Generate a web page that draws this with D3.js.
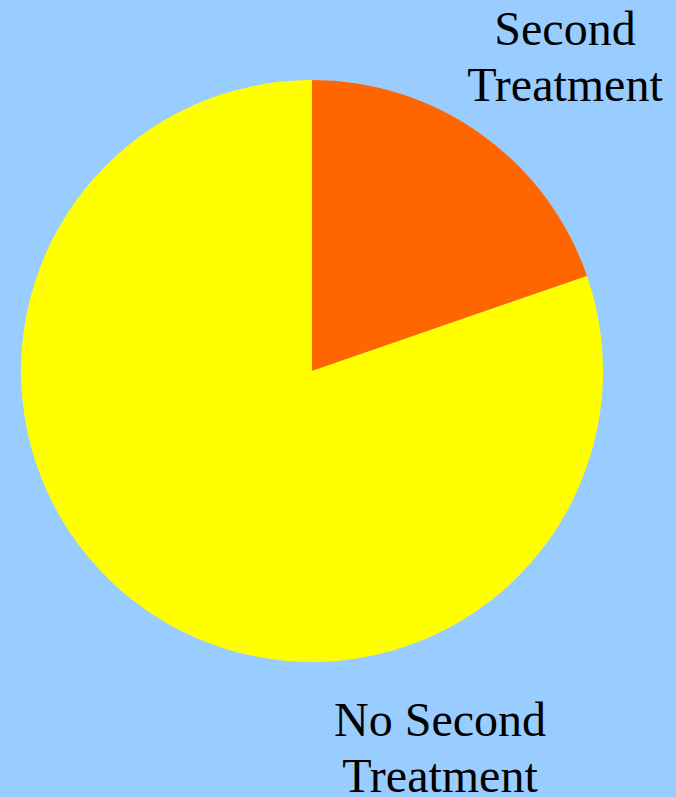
<!DOCTYPE html>
<html>
<head>
<meta charset="utf-8">
<script src="https://cdn.jsdelivr.net/npm/d3@7"></script>
<style>
  html, body { margin: 0; padding: 0; background: #99CCFF; }
  svg { display: block; }
</style>
</head>
<body>
<svg id="chart" width="676" height="797"></svg>
<script>
// Share of patients receiving a second treatment
const categories = ["Second Treatment", "No Second Treatment"];
const values = [19.7, 80.3];
const colors = ["#FF6600", "#FFFF00"];
const labelLines = [["Second", "Treatment"], ["No Second", "Treatment"]];

const width = 676, height = 797;
const cx = 312, cy = 371, radius = 291;

const svg = d3.select("#chart");
svg.append("rect").attr("width", width).attr("height", height).attr("fill", "#99CCFF");

const data = categories.map((c, i) => ({ name: c, value: values[i], color: colors[i], lines: labelLines[i] }));

const pie = d3.pie().value(d => d.value).sort(null);
const arc = d3.arc().innerRadius(0).outerRadius(radius);

const g = svg.append("g").attr("transform", `translate(${cx},${cy})`);
g.selectAll("path")
  .data(pie(data))
  .join("path")
  .attr("d", arc)
  .attr("fill", d => d.data.color);

// Label anchors placed outside the pie
const labelPos = [
  { x: 565, y: 45 },
  { x: 440, y: 736 }
];
const lineGap = 56;

const labels = svg.selectAll("text.lbl")
  .data(data)
  .join("text")
  .attr("class", "lbl")
  .attr("text-anchor", "middle")
  .attr("font-family", "'Liberation Serif', 'Times New Roman', serif")
  .attr("font-size", 48)
  .attr("fill", "#000");

labels.each(function(d, i) {
  d3.select(this).selectAll("tspan")
    .data(d.lines)
    .join("tspan")
    .attr("x", labelPos[i].x)
    .attr("y", (t, j) => labelPos[i].y + j * lineGap)
    .text(t => t);
});
</script>
</body>
</html>
